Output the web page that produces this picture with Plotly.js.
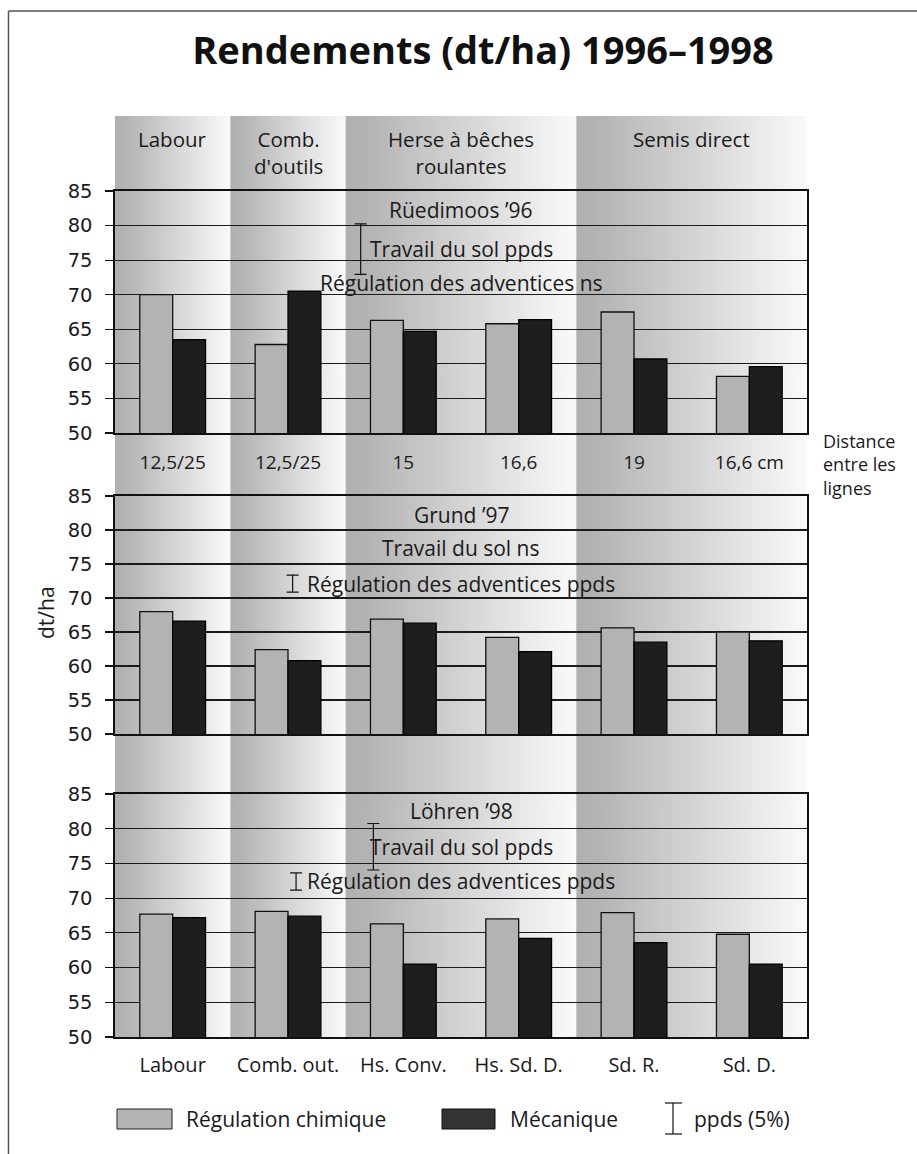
<!DOCTYPE html>
<html>
<head>
<meta charset="utf-8">
<script src="https://cdn.plot.ly/plotly-3.0.1.min.js"></script>
<style>
  html, body { margin: 0; padding: 0; background: #ffffff; }
  #chart { width: 917px; height: 1154px; }
</style>
</head>
<body>
<div id="chart"></div>
<script>
// ---- Data: yields (dt/ha) by tillage system and weed-control method ----
const systems = ['Labour', 'Comb. out.', 'Hs. Conv.', 'Hs. Sd. D.', 'Sd. R.', 'Sd. D.'];
const rowSpacing = ['12,5/25', '12,5/25', '15', '16,6', '19', '16,6 cm'];
const sites = ['Rüedimoos ’96', 'Grund ’97', 'Löhren ’98'];
const seriesNames = ['Régulation chimique', 'Mécanique'];

const chemical96 = [70.0, 62.8, 66.3, 65.8, 67.5, 58.2];
const mechanical96 = [63.5, 70.5, 64.7, 66.4, 60.7, 59.6];
const chemical97 = [68.0, 62.4, 66.9, 64.2, 65.6, 65.0];
const mechanical97 = [66.6, 60.8, 66.3, 62.1, 63.5, 63.7];
const chemical98 = [67.7, 68.1, 66.3, 67.0, 67.9, 64.8];
const mechanical98 = [67.2, 67.4, 60.5, 64.2, 63.6, 60.5];

// Statistical results per site (ppds = least significant difference, 5 %)
const tillageResult = ['Travail du sol ppds', 'Travail du sol ns', 'Travail du sol ppds'];
const weedResult = ['Régulation des adventices ns', 'Régulation des adventices ppds', 'Régulation des adventices ppds'];
const tillagePpds = [7.3, null, 6.7];
const weedPpds = [null, 2.5, 2.5];

// Tillage families shown as shaded column groups
const groupNames = ['Labour', 'Comb.<br>d\'outils', 'Herse à bêches<br>roulantes', 'Semis direct'];
const groupFirst = [0, 1, 2, 4];
const groupLast = [0, 1, 3, 5];

const yTicks = [50, 55, 60, 65, 70, 75, 80, 85];
const distanceLabel = 'Distance<br>entre les<br>lignes';
const unitLabel = 'dt/ha';
const ppdsLegend = 'ppds (5%)';
const chartTitle = 'Rendements (dt/ha) 1996–1998';

// ---- Layout helpers (pixel -> paper, margins are zero) ----
const W = 917, H = 1154;
const px = v => v / W;
const py = v => 1 - v / H;
const PLOT_L = 115, PLOT_R = 807;
const catW = (PLOT_R - PLOT_L) / systems.length;
const catPx = c => PLOT_L + (c + 0.5) * catW;

const panelPx = [[191, 433], [496, 734], [794, 1037]];
const TEXT = 'Open Sans, sans-serif';
const INK = '#1a1a1a';
const GRAY = '#b3b3b3';
const DARK = '#1e1e1e';

const chem = [chemical96, chemical97, chemical98];
const mech = [mechanical96, mechanical97, mechanical98];

// text rows inside each panel (axis units) and error-bar x positions
const siteRowY = [82.3, 82.2, 82.5];
const tillRowY = [76.6, 77.4, 77.4];
const weedRowY = [71.7, 72.1, 72.4];
const tillBarX = [1.63, null, 1.74];
const weedBarX = [null, 1.04, 1.07];

const traces = [];
const layout = {
  width: W, height: H,
  margin: { l: 0, r: 0, t: 0, b: 0 },
  paper_bgcolor: '#ffffff',
  plot_bgcolor: 'rgba(0,0,0,0)',
  showlegend: false,
  barmode: 'group',
  bargap: 0.43,
  bargroupgap: 0,
  font: { family: TEXT, color: INK },
  title: {
    text: '<b>' + chartTitle + '</b>',
    font: { family: TEXT, size: 38, color: '#111' },
    x: px(483), xref: 'paper', xanchor: 'center',
    y: py(51), yref: 'container', yanchor: 'middle'
  },
  annotations: [],
  shapes: [],
  images: []
};

for (let p = 0; p < 3; p++) {
  const sfx = p === 0 ? '' : String(p + 1);
  const xa = 'x' + sfx, ya = 'y' + sfx;
  const [top, bot] = panelPx[p];

  layout['xaxis' + sfx] = {
    domain: [px(PLOT_L), px(PLOT_R)],
    anchor: ya,
    range: [-0.5, systems.length - 0.5],
    showline: true, mirror: true, linecolor: '#111', linewidth: 1.6,
    showgrid: false, zeroline: false, ticks: '',
    tickvals: systems.map((_, i) => i),
    ticktext: p === 0 ? rowSpacing : systems,
    showticklabels: p !== 1,
    tickfont: { family: TEXT, size: p === 0 ? 19 : 20, color: INK },
    ticklabelstandoff: p === 0 ? 12 : 9,
    fixedrange: true
  };
  layout['yaxis' + sfx] = {
    domain: [py(bot), py(top)],
    anchor: xa,
    range: [50, 85],
    tickvals: yTicks,
    ticks: 'outside', ticklen: 8, tickwidth: 1.2, tickcolor: '#111',
    showgrid: true, gridcolor: '#1a1a1a', gridwidth: 1.1,
    showline: true, mirror: true, linecolor: '#111', linewidth: 1.6,
    zeroline: false,
    tickfont: { family: 'DejaVu Sans, sans-serif', size: 19.5, color: INK },
    ticklabelstandoff: 9,
    fixedrange: true
  };

  traces.push({
    type: 'bar', name: seriesNames[0], x: systems.map((_, i) => i), y: chem[p],
    xaxis: xa, yaxis: ya,
    marker: { color: GRAY, line: { color: '#111', width: 1.3 } },
    hoverinfo: 'y'
  });
  traces.push({
    type: 'bar', name: seriesNames[1], x: systems.map((_, i) => i), y: mech[p],
    xaxis: xa, yaxis: ya,
    marker: { color: DARK, line: { color: '#000', width: 1.3 } },
    hoverinfo: 'y'
  });

  // ppds bars drawn as symmetric error bars
  [[tillagePpds[p], tillBarX[p], tillRowY[p]], [weedPpds[p], weedBarX[p], weedRowY[p]]].forEach(([d, xPos, yPos]) => {
    if (d == null) return;
    traces.push({
      type: 'scatter', mode: 'markers', x: [xPos], y: [yPos],
      xaxis: xa, yaxis: ya,
      marker: { size: 1, color: 'rgba(0,0,0,0)' },
      error_y: { type: 'data', array: [d / 2], symmetric: true, color: '#111', thickness: 1.2, width: 6 },
      hoverinfo: 'skip'
    });
  });

  const rowText = [[sites[p], siteRowY[p]], [tillageResult[p], tillRowY[p]], [weedResult[p], weedRowY[p]]];
  rowText.forEach(([t, yv]) => {
    layout.annotations.push({
      text: t, xref: xa, yref: ya, x: (systems.length - 1) / 2, y: yv,
      xanchor: 'center', yanchor: 'middle', showarrow: false,
      font: { family: TEXT, size: 21, color: INK }
    });
  });
}

// shaded gradient columns behind the panels
function gradientSource() {
  const c = document.createElement('canvas');
  c.width = 256; c.height = 2;
  const ctx = c.getContext('2d');
  const g = ctx.createLinearGradient(0, 0, 256, 0);
  g.addColorStop(0, '#b0b0b0');
  g.addColorStop(0.08, '#b3b3b3');
  g.addColorStop(1, '#fafafa');
  ctx.fillStyle = g;
  ctx.fillRect(0, 0, 256, 2);
  return c.toDataURL('image/png');
}
const grad = gradientSource();
const BAND_TOP = 116, BAND_BOT = 1037;
groupNames.forEach((name, g) => {
  const x0 = catPx(groupFirst[g] - 0.5), x1 = catPx(groupLast[g] + 0.5);
  layout.images.push({
    source: grad, xref: 'paper', yref: 'paper',
    x: px(x0), y: py(BAND_TOP), sizex: px(x1 - x0), sizey: (BAND_BOT - BAND_TOP) / H,
    xanchor: 'left', yanchor: 'top', sizing: 'stretch', layer: 'below'
  });
  layout.annotations.push({
    text: name, xref: 'x', yref: 'paper',
    x: (groupFirst[g] + groupLast[g]) / 2, y: py(123),
    xanchor: 'center', yanchor: 'top', showarrow: false, align: 'center',
    font: { family: TEXT, size: 20.5, color: INK }
  });
});

// row-spacing caption at the right of the first panel
layout.annotations.push({
  text: distanceLabel, xref: 'paper', yref: 'paper', x: px(821), y: py(427),
  xanchor: 'left', yanchor: 'top', align: 'left', showarrow: false,
  font: { family: TEXT, size: 18, color: INK }
});
// unit label
layout.annotations.push({
  text: unitLabel, xref: 'paper', yref: 'paper', x: px(46), y: py(613),
  xanchor: 'center', yanchor: 'middle', textangle: -90, showarrow: false,
  font: { family: TEXT, size: 21, color: INK }
});

// legend
const LEG_Y = 1119;
layout.shapes.push({ type: 'rect', xref: 'paper', yref: 'paper', x0: px(117), x1: px(172), y0: py(LEG_Y - 10), y1: py(LEG_Y + 10), fillcolor: GRAY, line: { color: '#222', width: 1 } });
layout.shapes.push({ type: 'rect', xref: 'paper', yref: 'paper', x0: px(442), x1: px(495), y0: py(LEG_Y - 10), y1: py(LEG_Y + 10), fillcolor: '#333333', line: { color: '#111', width: 1 } });
layout.shapes.push({ type: 'line', xref: 'paper', yref: 'paper', x0: px(673), x1: px(673), y0: py(1103), y1: py(1134), line: { color: '#111', width: 1.2 } });
layout.shapes.push({ type: 'line', xref: 'paper', yref: 'paper', x0: px(665), x1: px(682), y0: py(1103), y1: py(1103), line: { color: '#111', width: 1.2 } });
layout.shapes.push({ type: 'line', xref: 'paper', yref: 'paper', x0: px(665), x1: px(682), y0: py(1134), y1: py(1134), line: { color: '#111', width: 1.2 } });
[[seriesNames[0], 184], [seriesNames[1], 508], [ppdsLegend, 692]].forEach(([t, xl]) => {
  layout.annotations.push({
    text: t, xref: 'paper', yref: 'paper', x: px(xl), y: py(LEG_Y),
    xanchor: 'left', yanchor: 'middle', showarrow: false,
    font: { family: TEXT, size: 21, color: INK }
  });
});

// page frame (left and top edges)
layout.shapes.push({ type: 'line', xref: 'paper', yref: 'paper', x0: px(8.5), x1: px(8.5), y0: 0, y1: py(11), line: { color: '#555', width: 1.5 } });
layout.shapes.push({ type: 'line', xref: 'paper', yref: 'paper', x0: px(8.5), x1: 1, y0: py(11), y1: py(11), line: { color: '#555', width: 1.5 } });

Plotly.newPlot('chart', traces, layout, { displayModeBar: false, staticPlot: true });
</script>
</body>
</html>
